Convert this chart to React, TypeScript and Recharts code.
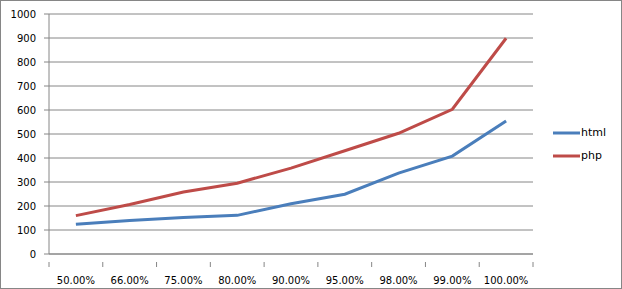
import React from 'react';
import { LineChart, Line, XAxis, YAxis, CartesianGrid, Legend } from 'recharts';

const categories = ['50.00%', '66.00%', '75.00%', '80.00%', '90.00%', '95.00%', '98.00%', '99.00%', '100.00%'];
const htmlValues = [124, 140, 152, 161, 209, 249, 337, 408, 554];
const phpValues = [160, 206, 258, 295, 358, 430, 503, 603, 899];
const yTicks = [0, 100, 200, 300, 400, 500, 600, 700, 800, 900, 1000];

const data = categories.map((c, i) => ({ name: c, html: htmlValues[i], php: phpValues[i] }));

const W = 622;
const H = 289;
const MARGIN = { top: 14, right: 89, bottom: 0, left: 0 };
const Y_AXIS_W = 49;
const X_AXIS_H = 35;
const AXIS_COLOR = '#868686';
const FONT = '"DejaVu Sans", sans-serif';

const plotW = W - MARGIN.left - MARGIN.right - Y_AXIS_W;
const halfBand = plotW / categories.length / 2;

function XTick(props: any) {
  const { x, y, payload, index } = props;
  const last = index === categories.length - 1;
  return (
    <g>
      <line x1={x - halfBand} y1={y} x2={x - halfBand} y2={y + 5} stroke={AXIS_COLOR} />
      {last && <line x1={x + halfBand} y1={y} x2={x + halfBand} y2={y + 5} stroke={AXIS_COLOR} />}
      <text x={x} y={y + 18} textAnchor="middle" dominantBaseline="central" fontSize={10} fontFamily={FONT} fill="#000">
        {payload.value}
      </text>
    </g>
  );
}

function renderLegend(props: any) {
  const { payload } = props;
  return (
    <div>
      {payload.map((p: any) => (
        <div key={p.value} style={{ display: 'flex', alignItems: 'center', height: 23 }}>
          <svg width={28} height={6} style={{ display: 'block' }}>
            <line x1={0} y1={3} x2={27} y2={3} stroke={p.color} strokeWidth={3} />
          </svg>
          <span style={{ fontFamily: FONT, fontSize: 11, color: '#000', lineHeight: '12px' }}>{p.value}</span>
        </div>
      ))}
    </div>
  );
}

export default function App() {
  return (
    <div style={{ position: 'absolute', left: 0, top: 0, width: W, height: H }}>
      <div style={{ position: 'absolute', left: 0, top: 0, width: W - 2, height: H - 2, border: `1px solid ${AXIS_COLOR}` }} />
      <LineChart width={W} height={H} data={data} margin={MARGIN}>
        <CartesianGrid vertical={false} stroke={AXIS_COLOR} strokeOpacity={1} />
        <XAxis
          dataKey="name"
          height={X_AXIS_H}
          padding={{ left: halfBand, right: halfBand }}
          axisLine={{ stroke: AXIS_COLOR }}
          tickLine={false}
          interval={0}
          tick={<XTick />}
        />
        <YAxis
          domain={[0, 1000]}
          ticks={yTicks}
          width={Y_AXIS_W}
          interval={0}
          axisLine={{ stroke: AXIS_COLOR }}
          tickLine={{ stroke: AXIS_COLOR }}
          tickSize={5}
          tickMargin={8}
          tick={{ fontSize: 10, fontFamily: FONT, fill: '#000' }}
        />
        <Legend
          layout="vertical"
          align="center"
          verticalAlign="middle"
          content={renderLegend}
          wrapperStyle={{ position: 'absolute', left: 553, top: 121, width: 64 }}
        />
        <Line type="linear" dataKey="html" stroke="#4a7ebb" strokeWidth={3} dot={false} isAnimationActive={false} />
        <Line type="linear" dataKey="php" stroke="#be4b48" strokeWidth={3} dot={false} isAnimationActive={false} />
      </LineChart>
    </div>
  );
}
